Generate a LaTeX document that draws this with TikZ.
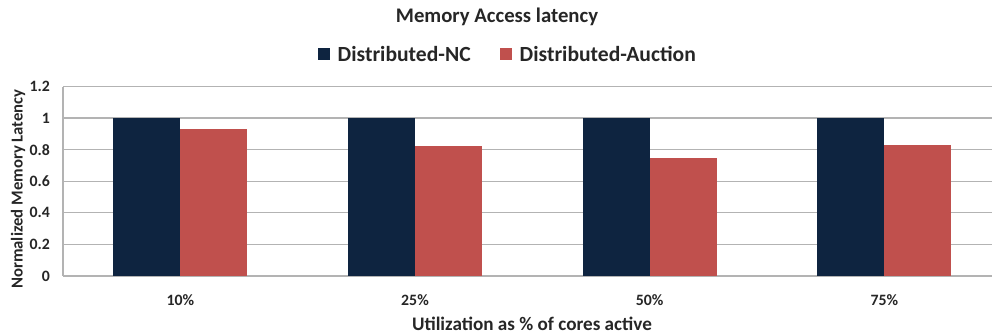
\documentclass[tikz,border=0pt]{standalone}
\usepackage{fontspec}
\setmainfont{Carlito}
\usetikzlibrary{positioning}
\definecolor{ncblue}{HTML}{0E2440}
\definecolor{auctred}{HTML}{C0504D}
\definecolor{gridgray}{HTML}{B3B3B3}
\definecolor{txtgray}{HTML}{262626}
\tikzset{
  lbl/.style={text=txtgray, font=\bfseries, inner sep=1pt},
  ticklbl/.style={lbl, font=\bfseries\fontsize{9}{10}\selectfont},
  legsq/.style={minimum size=6.8pt, inner sep=0pt}
}
\begin{document}
\begin{tikzpicture}[x=0.02cm, y=-0.02cm]
        \useasboundingbox (0,0) rectangle (992,335);

        % Titolo e legenda
        \node[lbl, font=\bfseries\fontsize{11.8}{13}\selectfont] (title) at (497,17) {Memory Access latency};
        \node[legsq, fill=ncblue] (sqnc) at (324,54) {};
        \node[lbl, font=\bfseries\fontsize{12.3}{14}\selectfont, right=3pt of sqnc] (lgnc) {Distributed-NC};
        \node[legsq, fill=auctred] (sqauct) at (506,54) {};
        \node[lbl, font=\bfseries\fontsize{12.3}{14}\selectfont, right=3pt of sqauct] (lgauct) {Distributed-Auction};

        % Griglia e assi
        \foreach \v/\t in {0/0, 0.2/0.2, 0.4/0.4, 0.6/0.6, 0.8/0.8, 1/1, 1.2/1.2} {
            \draw[gridgray, line width=0.6pt] (63,276-158*\v) -- (992,276-158*\v);
            \node[ticklbl, anchor=east] at (52,276-158*\v) {\t};
        }
        \draw[gridgray, line width=0.6pt] (63,87) -- (63,276);

        % Barre
        \foreach \i/\g/\a in {0/10\%/0.93, 1/25\%/0.82, 2/50\%/0.75, 3/75\%/0.83} {
            \pgfmathsetmacro{\cx}{180.3+234.7*\i}
            \fill[ncblue] (\cx-67,276) rectangle (\cx,276-158);
            \fill[auctred] (\cx,276) rectangle (\cx+67,276-158*\a);
            \node[ticklbl] (cat\i) at (\cx,300) {\g};
        }

        % Titoli degli assi
        \node[lbl, font=\bfseries\fontsize{10.9}{12}\selectfont] (xtitle) at (532,324) {Utilization as \% of cores active};
        \node[lbl, font=\bfseries\fontsize{9.5}{11}\selectfont, rotate=90] (ytitle) at (18,189) {Normalized Memory Latency};
    \end{tikzpicture}
\end{document}
